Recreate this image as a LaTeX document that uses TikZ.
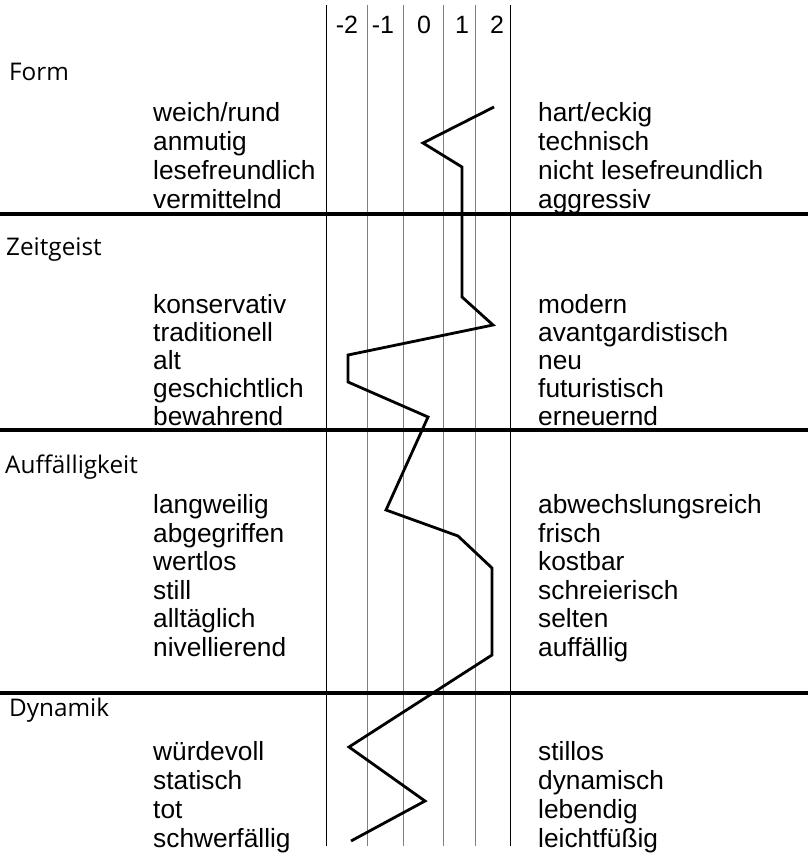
\documentclass[tikz,border=0pt]{standalone}
\usepackage{fontspec}
\setmainfont{Liberation Sans}
\newfontfamily\grpfont{Open Sans}

\begin{document}
\begin{tikzpicture}[x=1pt, y=-1pt,
    word/.style={anchor=base west, inner sep=0pt, font=\fontsize{26.3}{29}\selectfont},
    group/.style={anchor=base west, inner sep=0pt, font=\grpfont\fontsize{24.3}{28}\selectfont},
    head/.style={anchor=base, inner sep=0pt, font=\fontsize{25}{29}\selectfont},
    grid/.style={line width=1.2pt},
    sep/.style={line width=3.4pt},
    profile/.style={line width=2.8pt, line join=miter}]
    \useasboundingbox (0,0) rectangle (811,858);
    \def\xl{153}
    \def\xr{538}

    % scale columns
    \draw[grid] (326.7,5) -- (326.7,846);
    \draw[grid, gray] (367.7,5) -- (367.7,846);
    \draw[grid, gray] (403.7,5) -- (403.7,846);
    \draw[grid, gray] (443.7,5) -- (443.7,846);
    \draw[grid, gray] (475.7,5) -- (475.7,846);
    \draw[grid] (510.7,5) -- (510.7,846);
    \node(n1) [head] at (347,34) {-2};
    \node(n2) [head] at (383,34) {-1};
    \node(n3) [head] at (424,34) {0};
    \node(n4) [head] at (462,34) {1};
    \node(n5) [head] at (497,34) {2};

    % section rules
    \draw[sep] (0,214) -- (808,214);
    \draw[sep] (0,430) -- (808,430);
    \draw[sep] (0,693) -- (808,693);

    % Form
    \node(g1) [group] at (9,81) {Form};
    \node(l1) [word] at (\xl,122) {weich/rund};
    \node(l2) [word] at (\xl,151) {anmutig};
    \node(l3) [word] at (\xl,180) {lesefreundlich};
    \node(l4) [word] at (\xl,209) {vermittelnd};
    \node(r1) [word] at (\xr,122) {hart/eckig};
    \node(r2) [word] at (\xr,151) {technisch};
    \node(r3) [word] at (\xr,180) {nicht lesefreundlich};
    \node(r4) [word] at (\xr,209) {aggressiv};

    % Zeitgeist
    \node(g2) [group] at (6,255) {Zeitgeist};
    \node(l5) [word] at (\xl,313) {konservativ};
    \node(l6) [word] at (\xl,341) {traditionell};
    \node(l7) [word] at (\xl,369) {alt};
    \node(l8) [word] at (\xl,397) {geschichtlich};
    \node(l9) [word] at (\xl,425) {bewahrend};
    \node(r5) [word] at (\xr,313) {modern};
    \node(r6) [word] at (\xr,341) {avantgardistisch};
    \node(r7) [word] at (\xr,369) {neu};
    \node(r8) [word] at (\xr,397) {futuristisch};
    \node(r9) [word] at (\xr,425) {erneuernd};

    % Auffaelligkeit
    \node(g3) [group] at (5,473) {Auffälligkeit};
    \node(l10) [word] at (\xl,513) {langweilig};
    \node(l11) [word] at (\xl,542) {abgegriffen};
    \node(l12) [word] at (\xl,570) {wertlos};
    \node(l13) [word] at (\xl,599) {still};
    \node(l14) [word] at (\xl,627) {alltäglich};
    \node(l15) [word] at (\xl,656) {nivellierend};
    \node(r10) [word] at (\xr,513) {abwechslungsreich};
    \node(r11) [word] at (\xr,542) {frisch};
    \node(r12) [word] at (\xr,570) {kostbar};
    \node(r13) [word] at (\xr,599) {schreierisch};
    \node(r14) [word] at (\xr,627) {selten};
    \node(r15) [word] at (\xr,656) {auffällig};

    % Dynamik
    \node(g4) [group] at (9,716) {Dynamik};
    \node(l16) [word] at (\xl,760) {würdevoll};
    \node(l17) [word] at (\xl,789) {statisch};
    \node(l18) [word] at (\xl,818) {tot};
    \node(l19) [word] at (\xl,847) {schwerfällig};
    \node(r16) [word] at (\xr,760) {stillos};
    \node(r17) [word] at (\xr,789) {dynamisch};
    \node(r18) [word] at (\xr,818) {lebendig};
    \node(r19) [word] at (\xr,847) {leichtfüßig};

    % profile
    \coordinate (p1) at (494,107);
    \coordinate (p2) at (423,143);
    \coordinate (p3) at (462,167);
    \coordinate (p4) at (462,297);
    \coordinate (p5) at (493,325);
    \coordinate (p6) at (348,355);
    \coordinate (p7) at (348,382);
    \coordinate (p8) at (428,417);
    \coordinate (p9) at (386,510);
    \coordinate (p10) at (458,536);
    \coordinate (p11) at (492,568);
    \coordinate (p12) at (492,655);
    \coordinate (p13) at (349,747);
    \coordinate (p14) at (425,801);
    \coordinate (p15) at (351,841);
    \draw[profile] (p1) -- (p2) -- (p3) -- (p4) -- (p5) -- (p6) -- (p7) -- (p8)
        -- (p9) -- (p10) -- (p11) -- (p12) -- (p13) -- (p14) -- (p15);
\end{tikzpicture}
\end{document}
